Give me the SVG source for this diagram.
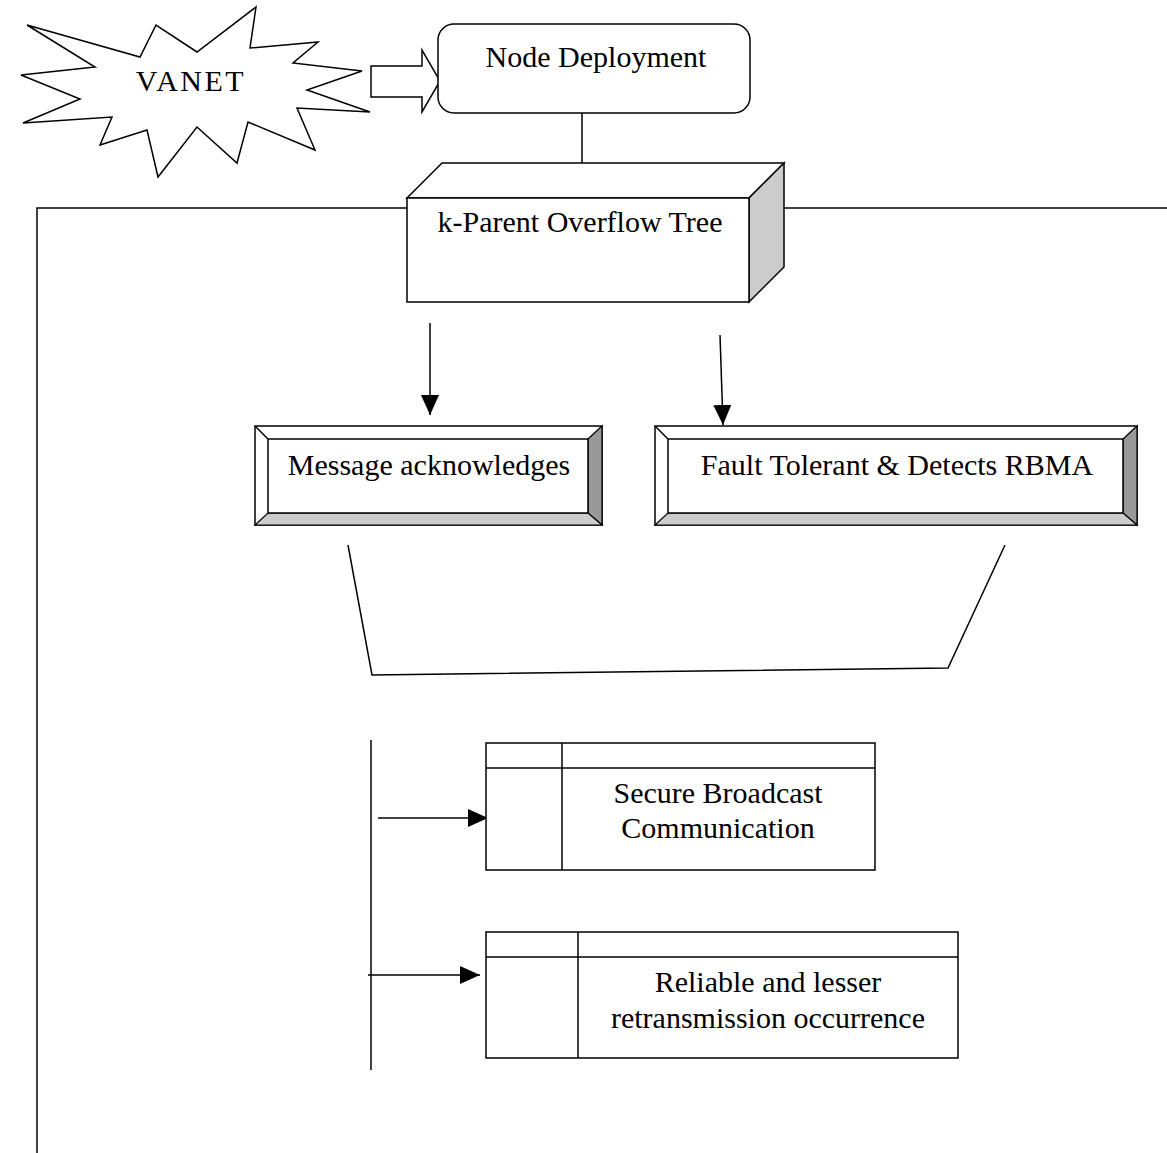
<svg xmlns="http://www.w3.org/2000/svg" width="1167" height="1153" viewBox="0 0 1167 1153">
<style>
.s{fill:none;stroke:#000;stroke-width:1.5}
.w{fill:#fff;stroke:#000;stroke-width:1.5;stroke-linejoin:miter}
.t{font-family:"Liberation Serif","Times New Roman",serif;font-size:30px;fill:#000;text-anchor:middle}
</style>
<defs>
<marker id="ah" markerUnits="userSpaceOnUse" markerWidth="20" markerHeight="18" viewBox="0 0 20 18" refX="20" refY="9" orient="auto">
<path d="M0,0 L20,9 L0,18 Z" fill="#000"/>
</marker>
</defs>
<rect width="1167" height="1153" fill="#fff"/>

<g id="connectors">
<polyline class="s" points="37,1153 37,208 407,208"/>
<line class="s" x1="749" y1="208" x2="1167" y2="208"/>
<line class="s" x1="582" y1="113" x2="582" y2="163"/>
<line class="s" x1="430" y1="323" x2="430" y2="415" marker-end="url(#ah)"/>
<line class="s" x1="720" y1="335" x2="723" y2="425" marker-end="url(#ah)"/>
<polyline class="s" points="348,545 372,675 948,668 1005,545"/>
<line class="s" x1="371" y1="740" x2="371" y2="1070"/>
<line class="s" x1="378" y1="818" x2="488" y2="818" marker-end="url(#ah)"/>
<line class="s" x1="368" y1="975" x2="480" y2="975" marker-end="url(#ah)"/>
<path class="w" d="M371,66 L422,66 L422,50 L440,81 L422,112 L422,97 L371,97 Z"/>
</g>

<g id="vanet">
<polygon class="w" points="27,25 140,57 156,25 197,52 256,7 250,48 318,42 293,63 362,71 307,90 370,112 297,108 315,150 248,122 237,163 197,127 158,177 147,130 100,145 112,117 23,123 80,99 21,75 95,67"/>
<text class="t" x="191" y="91" letter-spacing="2.5">VANET</text>
</g>

<g id="node-deployment">
<rect class="w" x="438" y="24" width="312" height="89" rx="16"/>
<text class="t" x="596" y="67">Node Deployment</text>
</g>

<g id="k-parent">
<polygon class="w" points="407,198 442,163 784,163 749,198"/>
<polygon points="749,198 784,163 784,267 749,302" fill="#ccc" stroke="#000" stroke-width="1.5"/>
<rect class="w" x="407" y="198" width="342" height="104"/>
<text class="t" x="580" y="232">k-Parent Overflow Tree</text>
</g>

<g id="message">
<rect class="w" x="255" y="426" width="347" height="99"/>
<polygon points="588,439 602,426 602,525 588,513" fill="#999" stroke="#000" stroke-width="1.2"/>
<polygon points="268,513 588,513 602,525 255,525" fill="#ccc" stroke="#000" stroke-width="1.2"/>
<line class="s" x1="255" y1="426" x2="268" y2="439"/>
<rect class="w" x="268" y="439" width="320" height="74"/>
<text class="t" x="429" y="475">Message acknowledges</text>
</g>

<g id="fault">
<rect class="w" x="655" y="426" width="482" height="99"/>
<polygon points="1123,439 1137,426 1137,525 1123,513" fill="#999" stroke="#000" stroke-width="1.2"/>
<polygon points="668,513 1123,513 1137,525 655,525" fill="#ccc" stroke="#000" stroke-width="1.2"/>
<line class="s" x1="655" y1="426" x2="668" y2="439"/>
<rect class="w" x="668" y="439" width="455" height="74"/>
<text class="t" x="897" y="475">Fault Tolerant &amp; Detects RBMA</text>
</g>

<g id="secure">
<rect class="w" x="486" y="743" width="389" height="127"/>
<line class="s" x1="486" y1="768" x2="875" y2="768"/>
<line class="s" x1="562" y1="743" x2="562" y2="870"/>
<text class="t" x="718" y="803">Secure Broadcast</text>
<text class="t" x="718" y="838">Communication</text>
</g>

<g id="reliable">
<rect class="w" x="486" y="932" width="472" height="126"/>
<line class="s" x1="486" y1="957" x2="958" y2="957"/>
<line class="s" x1="578" y1="932" x2="578" y2="1058"/>
<text class="t" x="768" y="992">Reliable and lesser</text>
<text class="t" x="768" y="1028">retransmission occurrence</text>
</g>
</svg>
